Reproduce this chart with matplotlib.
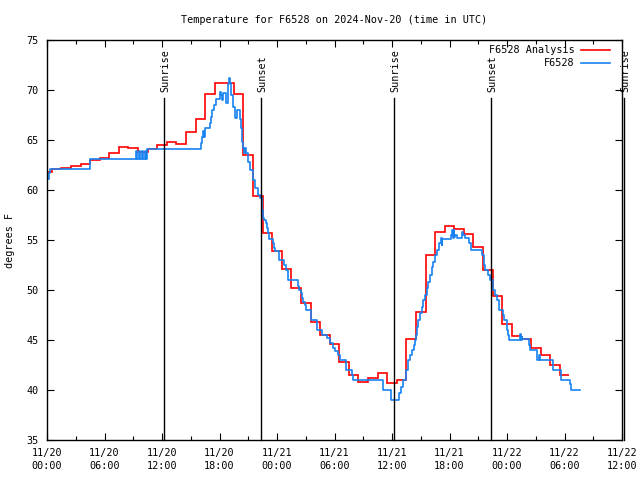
import matplotlib
matplotlib.use("Agg")
import matplotlib.pyplot as plt
import numpy as np

plt.rcParams['font.family'] = ['DejaVu Sans Mono']
FS = 7.3

# hours since 2024-11-20 00:00 UTC
# hourly analysis values, one per hour 0..54
analysis = [61.75, 62.05, 62.17, 62.4, 62.6, 63.0, 63.17, 63.67, 64.27, 64.17,
            63.75, 64.07, 64.47, 64.83, 64.57, 65.77, 67.1, 69.6, 70.7, 70.7,
            69.6, 63.5, 59.4, 55.7, 53.9, 52.1, 50.2, 48.7, 46.8, 45.5,
            44.6, 42.8, 41.5, 40.8, 41.2, 41.7, 40.7, 41.0, 45.1, 47.8,
            53.5, 55.8, 56.4, 56.1, 55.6, 54.3, 52.0, 49.4, 46.6, 45.4,
            45.1, 44.2, 43.5, 42.5, 41.5]

# station observations (time in hours, value)
obs_t = [0.0, 0.2, 0.35, 4.5, 9.3, 9.4, 9.6, 9.7, 9.9, 10.0, 10.2, 10.3, 10.45,
         16.04, 16.15, 16.3, 16.35, 16.49, 17.0, 17.11, 17.25, 17.43, 17.6,
         18.05, 18.16, 18.3, 18.4, 18.64, 18.85, 18.92, 19.03, 19.13, 19.24,
         19.37, 19.62, 19.83, 20.14, 20.24, 20.31, 20.49, 20.6, 20.65, 20.73,
         20.97, 21.18, 21.46, 21.67, 21.98, 22.2, 22.4, 22.5, 22.64, 22.82,
         22.92, 23.1, 23.2, 23.6, 23.68, 23.79, 24.24, 24.76, 24.94, 25.18,
         26.16, 26.3, 26.47, 26.58, 26.75, 26.92, 27.03, 27.55, 28.21, 28.66,
         29.25, 29.53, 29.81, 30.05, 30.4, 30.57, 31.17, 31.79, 31.9, 35.1,
         35.86, 36.76, 36.94, 37.12, 37.46, 37.7, 37.88, 38.05, 38.3, 38.4,
         38.5, 38.58, 38.75, 38.92, 39.1, 39.27, 39.44, 39.62, 39.79, 39.97,
         40.14, 40.31, 40.49, 40.66, 40.91, 41.08, 41.2, 41.25, 42.16, 42.3,
         42.35, 42.45, 42.5, 42.6, 42.75, 43.34, 43.45, 43.62, 44.04, 44.24,
         45.4, 45.55, 45.6, 45.7, 46.05, 46.23, 46.5, 46.57, 46.75, 46.93,
         47.2, 47.62, 47.69, 48.03, 48.14, 48.24, 49.36, 49.45, 49.53, 49.6,
         50.3, 50.4, 51.1, 51.37, 51.45, 52.77, 52.83, 53.67, 54.58, 54.68,
         55.62]
obs_v = [61.1, 61.7, 62.07, 63.07, 63.9, 63.07, 63.9, 63.07, 63.9, 63.07, 63.9, 63.07, 64.07,
         64.67, 65.33, 65.9, 65.3, 66.17, 66.67, 67.33, 68.0, 68.5, 69.07,
         69.83, 69.5, 69.0, 69.73, 68.67, 70.0, 70.6, 71.17, 70.67, 69.5,
         68.33, 67.17, 68.0, 67.07, 66.17, 64.83, 64.17, 63.7, 64.2, 63.67,
         62.83, 62.0, 61.0, 60.17, 59.5, 59.17, 58.0, 57.17, 57.0, 56.67,
         56.17, 55.67, 55.07, 54.67, 54.17, 53.93, 53.0, 52.5, 52.0, 51.0,
         50.4, 50.0, 49.67, 49.17, 48.83, 48.5, 48.0, 47.0, 46.0, 45.5,
         45.17, 44.67, 44.17, 43.93, 43.5, 43.0, 42.0, 41.5, 41.0, 40.0,
         39.0, 39.67, 40.33, 41.0, 42.0, 43.0, 43.5, 44.0, 44.5, 45.0,
         45.5, 46.33, 47.0, 47.67, 48.33, 49.0, 49.5, 50.17, 50.83, 51.5,
         52.33, 52.83, 53.5, 54.0, 54.67, 55.17, 54.5, 55.1, 55.5, 56.0,
         55.2, 56.0, 55.3, 55.5, 55.17, 55.83, 55.5, 55.17, 54.67, 54.0,
         53.5, 53.0, 52.5, 52.0, 51.5, 51.0, 50.5, 50.0, 49.5, 49.0,
         48.0, 47.5, 47.0, 46.0, 45.5, 45.0, 45.6, 45.0, 45.33, 45.07,
         44.5, 44.0, 43.0, 43.5, 43.0, 42.5, 42.0, 41.0, 40.6, 40.0,
         40.0]

sun_t = [12.21, 22.33, 36.21, 46.33, 60.25]
sun_labels = ['Sunrise', 'Sunset', 'Sunrise', 'Sunset', 'Sunrise']

xtick_pos = list(range(0, 61, 6))
xtick_labels = ['11/20\n00:00', '11/20\n06:00', '11/20\n12:00', '11/20\n18:00',
                '11/21\n00:00', '11/21\n06:00', '11/21\n12:00', '11/21\n18:00',
                '11/22\n00:00', '11/22\n06:00', '11/22\n12:00']

fig = plt.figure(figsize=(6.4, 4.8), dpi=100)
ax = fig.add_axes([47/640, 40/480, 575/640, 400/480])

edges = np.arange(len(analysis) + 1) - 0.5
ax.stairs(analysis, edges, baseline=None, color='#ff0000', lw=1.2)
ax.step(obs_t, obs_v, where='post', color='#1883f0', lw=1.2)

for t, lab in zip(sun_t, sun_labels):
    ax.plot([t, t], [35, 69.2], color='black', lw=1.0, clip_on=False)
    ax.text(t + 0.12, 69.8, lab, rotation=90, ha='center', va='bottom',
            fontsize=FS, clip_on=False)

ax.set_xlim(0, 60)
ax.set_ylim(35, 75)
ax.set_xticks(xtick_pos)
ax.set_xticklabels(xtick_labels, linespacing=1.3)
ax.set_xticks(range(3, 60, 6), minor=True)
ax.set_yticks(range(35, 76, 5))
ax.tick_params(which='both', direction='in', top=True, right=True,
               labelsize=FS, color='black')
ax.tick_params(which='major', length=5, width=0.8)
ax.tick_params(which='minor', length=3, width=0.8)
ax.tick_params(axis='x', pad=6)
ax.tick_params(axis='y', pad=6)
for s in ax.spines.values():
    s.set_linewidth(1.0)

ax.set_ylabel('degrees F', fontsize=FS, labelpad=8)
fig.text(334/640, 1 - 20/480, 'Temperature for F6528 on 2024-Nov-20 (time in UTC)',
         ha='center', va='center', fontsize=FS)

# legend drawn by hand to keep the text right-aligned
ax.text(0.918, 0.975, 'F6528 Analysis', transform=ax.transAxes,
        ha='right', va='center', fontsize=FS)
ax.text(0.918, 0.9425, 'F6528', transform=ax.transAxes,
        ha='right', va='center', fontsize=FS)
ax.plot([0.929, 0.979], [0.975, 0.975], transform=ax.transAxes,
        color='#ff0000', lw=1.2)
ax.plot([0.929, 0.979], [0.9425, 0.9425], transform=ax.transAxes,
        color='#1883f0', lw=1.2)

fig.savefig('out.png', dpi=100)
